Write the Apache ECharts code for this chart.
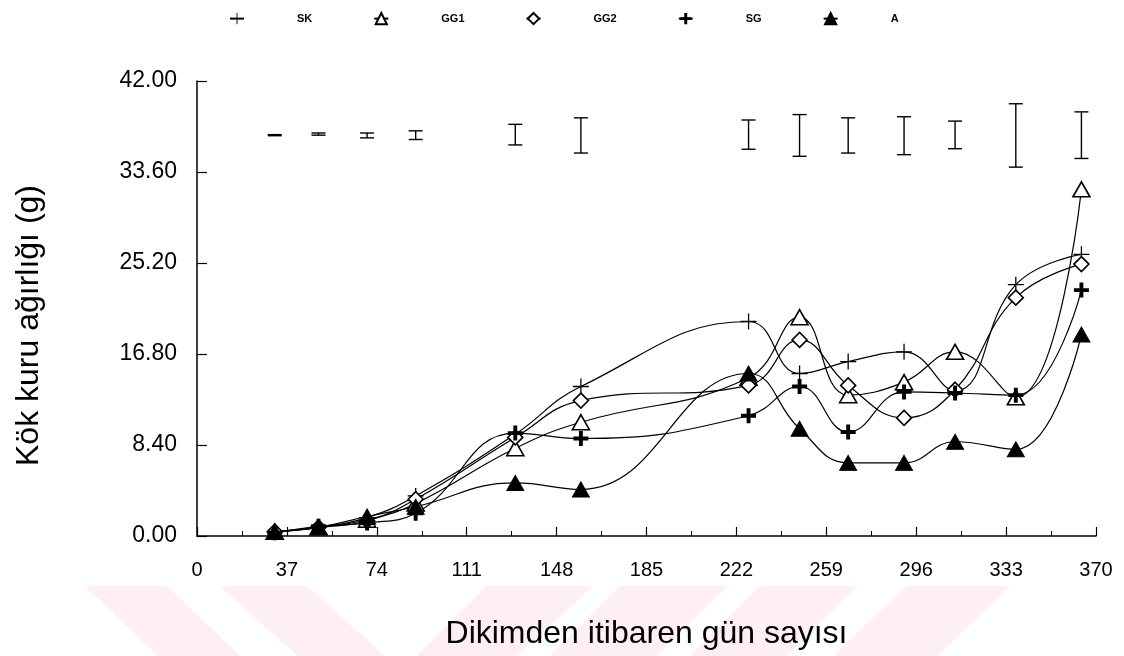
<!DOCTYPE html>
<html>
<head>
<meta charset="utf-8">
<script src="https://cdn.jsdelivr.net/npm/echarts@6/dist/echarts.min.js"></script>
<style>
    html, body { margin: 0; padding: 0; background: #fff; }
    #chart { width: 1124px; height: 656px; }
</style>
</head>
<body>
<div id="chart"></div>
<script>
var days = [32, 50, 70, 90, 131, 158, 227, 248, 268, 291, 312, 337, 364];
var SK  = [0.4, 0.8, 1.7, 3.7, 9.4, 13.8, 19.8, 15.0, 16.1, 17.0, 13.4, 23.2, 26.0];
var GG1 = [0.4, 0.8, 1.5, 3.0, 8.1, 10.5, 14.6, 20.2, 13.0, 14.2, 17.0, 12.8, 32.0];
var GG2 = [0.4, 0.8, 1.4, 3.4, 9.1, 12.5, 13.9, 18.1, 13.9, 10.9, 13.5, 22.0, 25.1];
var SG  = [0.3, 0.9, 1.2, 2.1, 9.5, 9.0, 11.1, 13.8, 9.6, 13.3, 13.2, 13.0, 22.7];
var A   = [0.4, 0.8, 1.8, 2.7, 4.9, 4.3, 15.0, 9.9, 6.75, 6.75, 8.7, 8.0, 18.6];
// hata çubukları (alt / üst)
var errLow  = [36.95, 37.0, 36.75, 36.6, 36.1, 35.35, 35.7, 35.05, 35.35, 35.2, 35.75, 34.05, 34.85];
var errHigh = [37.05, 37.2, 37.2, 37.4, 38.0, 38.6, 38.4, 38.9, 38.6, 38.7, 38.3, 39.9, 39.15];

var FONT = 'Liberation Sans, Arial, sans-serif';
var THIN_PLUS = 'path://M0,9.2H20V10.8H0ZM9.2,0H10.8V20H9.2Z';
var BOLD_PLUS = 'path://M0,7.4H20V12.6H0ZM7.4,0H12.6V20H7.4Z';

function pairs(vals){
    return days.map(function(d, i){ return [d, vals[i]]; });
}

function lineSeries(name, vals, symbol, size, fill, border){
    return {
        name: name,
        type: 'line',
        smooth: 0.45,
        data: pairs(vals),
        symbol: symbol,
        symbolSize: size,
        showAllSymbol: true,
        lineStyle: { color: '#000', width: 1.2 },
        itemStyle: { color: fill, borderColor: '#000', borderWidth: border },
        emphasis: { disabled: true },
        z: 3
    };
}

var errData = days.map(function(d, i){ return [d, errLow[i], errHigh[i]]; });

var stripe = '#fef0f2';
var marks = [
    [[85, 586], [167, 586], [240, 656], [158, 656]],
    [[220, 586], [307, 586], [385, 656], [298, 656]],
    [[487, 586], [593, 586], [517, 656], [417, 656]],
    [[620, 586], [727, 586], [657, 656], [550, 656]],
    [[760, 586], [857, 586], [787, 656], [690, 656]],
    [[907, 586], [1010, 586], [937, 656], [833, 656]]
];

var myChart = echarts.init(document.getElementById('chart'));
var option = {
    backgroundColor: '#fff',
    animation: false,
    graphic: marks.map(function(p){
        return { type: 'polygon', z: -10, silent: true, shape: { points: p }, style: { fill: stripe } };
    }),
    legend: {
        top: 7,
        left: 224,
        itemWidth: 14,
        itemHeight: 14,
        itemGap: 61,
        data: ['SK', 'GG1', 'GG2', 'SG', 'A'],
        textStyle: { fontFamily: FONT, fontSize: 11, fontWeight: 'bold', color: '#000', padding: [0, 0, 0, 48], width: 30 }
    },
    grid: { left: 197, right: 28, top: 81, bottom: 120, containLabel: false },
    xAxis: {
        type: 'value',
        min: 0,
        max: 370,
        interval: 37,
        name: 'Dikimden itibaren gün sayısı',
        nameLocation: 'middle',
        nameGap: 82,
        nameTextStyle: { fontFamily: FONT, fontSize: 32, color: '#000' },
        axisLine: { lineStyle: { color: '#000', width: 1.5 } },
        axisTick: { inside: true, length: 9, lineStyle: { color: '#000', width: 1.2 } },
        minorTick: { show: true, splitNumber: 2, length: 5, lineStyle: { color: '#000', width: 1 } },
        axisLabel: { fontFamily: FONT, fontSize: 20, color: '#000', margin: 24 },
        splitLine: { show: false }
    },
    yAxis: {
        type: 'value',
        min: 0,
        max: 42,
        interval: 8.4,
        name: 'Kök kuru ağırlığı (g)',
        nameLocation: 'middle',
        nameGap: 152,
        nameTextStyle: { fontFamily: FONT, fontSize: 32, color: '#000', padding: [0, 34, 0, 0] },
        axisLine: { show: true, lineStyle: { color: '#000', width: 1.5 } },
        axisTick: { show: true, inside: true, length: 10, lineStyle: { color: '#000', width: 1.2 } },
        axisLabel: {
            fontFamily: FONT, fontSize: 23, color: '#000', margin: 20,
            formatter: function(v){ return v.toFixed(2); }
        },
        splitLine: { show: false }
    },
    series: [
        lineSeries('SK', SK, THIN_PLUS, 16, '#000', 0),
        lineSeries('GG1', GG1, 'triangle', [17, 15], '#fff', 1.6),
        lineSeries('GG2', GG2, 'diamond', 15, '#fff', 1.6),
        lineSeries('SG', SG, BOLD_PLUS, 15, '#000', 0),
        lineSeries('A', A, 'triangle', [17, 15], '#000', 1),
        {
            name: 'err',
            type: 'custom',
            data: errData,
            silent: true,
            z: 2,
            renderItem: function(params, api){
                var x = api.value(0);
                var lo = api.coord([x, api.value(1)]);
                var hi = api.coord([x, api.value(2)]);
                var half = 7;
                var st = { stroke: '#000', lineWidth: 1.4 };
                return {
                    type: 'group',
                    children: [
                        { type: 'line', shape: { x1: lo[0], y1: lo[1], x2: hi[0], y2: hi[1] }, style: st },
                        { type: 'line', shape: { x1: lo[0] - half, y1: lo[1], x2: lo[0] + half, y2: lo[1] }, style: st },
                        { type: 'line', shape: { x1: hi[0] - half, y1: hi[1], x2: hi[0] + half, y2: hi[1] }, style: st }
                    ]
                };
            }
        }
    ]
};
myChart.setOption(option);
</script>
</body>
</html>
